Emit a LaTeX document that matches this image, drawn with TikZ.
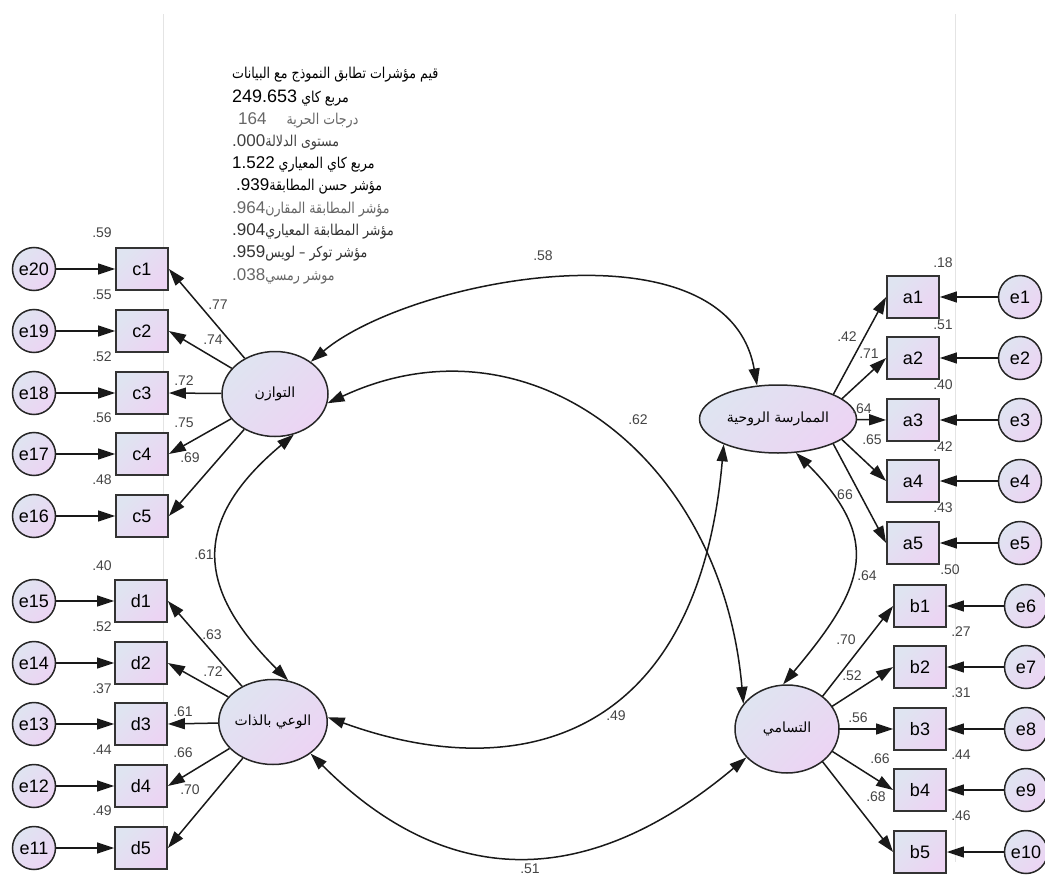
\documentclass[tikz,border=0pt]{standalone}
\usepackage{fontspec}
\setmainfont{Liberation Sans}
\newfontfamily\arabicfont[Script=Arabic]{DejaVu Sans}
\newfontfamily\arabicnarrow[Script=Arabic,FakeStretch=0.84]{DejaVu Sans}
\TeXXeTstate=1
\usetikzlibrary{arrows.meta,shapes.geometric,backgrounds}
\definecolor{shadeA}{HTML}{DFE4F1}
\definecolor{shadeB}{HTML}{ECD4F3}
\definecolor{edgegray}{HTML}{333333}
\definecolor{valgray}{HTML}{444444}
\definecolor{pageline}{HTML}{E4E4E4}
\newcommand{\artxt}[1]{\arabicfont\beginR #1\endR}
\newcommand{\fittext}[1]{\arabicnarrow\beginR #1\endR}
\newcommand{\lnum}[2][17]{\beginL{\rmfamily\fontsize{#1}{#1}\selectfont #2}\endL}
\begin{document}
\begin{tikzpicture}[x=1pt,y=1pt,
  headtip/.style={-{Triangle[length=17pt,width=11pt]}},
  twohead/.style={{Triangle[length=17pt,width=11pt]}-{Triangle[length=17pt,width=11pt]}},
  wire/.style={line width=1.5pt, draw=black!90},
  obsbox/.style={rectangle, draw=edgegray, line width=1.8pt, minimum width=52pt,
    minimum height=42pt, inner sep=0pt, left color=shadeA, right color=shadeB,
    shading angle=45, font=\fontsize{18}{18}\selectfont},
  errnode/.style={circle, draw=black!85, line width=1.5pt, minimum size=43pt,
    inner sep=0pt, left color=shadeA, right color=shadeB, shading angle=45,
    font=\fontsize{18}{18}\selectfont},
  latnode/.style={ellipse, draw=black!85, line width=1.5pt, inner sep=0pt,
    left color=shadeA, right color=shadeB, shading angle=45,
    font=\fontsize{14}{14}\selectfont},
  valtxt/.style={inner sep=0pt, text=valgray, font=\fontsize{14}{14}\selectfont},
  fittxt/.style={anchor=west, inner sep=0pt, font=\fontsize{15}{15}\selectfont}
]
\useasboundingbox (0,0) rectangle (1045,-875);

% latent factors
\node[latnode, minimum width=106pt, minimum height=85pt] (L1) at (275,-394) {\artxt{التوازن}};
\node[latnode, minimum width=107pt, minimum height=85pt] (L2) at (273,-722) {\artxt{الوعي بالذات}};
\node[latnode, minimum width=157pt, minimum height=68pt] (L3) at (778,-419) {\artxt{الممارسة الروحية}};
\node[latnode, minimum width=104pt, minimum height=88pt] (L4) at (787,-729) {\artxt{التسامي}};

% observed indicators
\foreach \i/\y in {1/269,2/331,3/393,4/454,5/516}
  \node[obsbox] (c\i) at (142,-\y) {c\i};
\foreach \i/\y in {1/601,2/663,3/724,4/786,5/848}
  \node[obsbox] (d\i) at (141,-\y) {d\i};
\foreach \i/\y in {1/297,2/358,3/420,4/481,5/543}
  \node[obsbox] (a\i) at (913,-\y) {a\i};
\foreach \i/\y in {1/606,2/667,3/729,4/790,5/852}
  \node[obsbox] (b\i) at (920,-\y) {b\i};

% error terms
\foreach \e/\y in {20/269,19/331,18/393,17/454,16/516,15/601,14/663,13/724,12/786,11/848}
  \node[errnode] (e\e) at (34,-\y) {e\e};
\foreach \e/\y in {1/297,2/358,3/420,4/481,5/543}
  \node[errnode] (e\e) at (1020,-\y) {e\e};
\foreach \e/\y in {6/606,7/667,8/729,9/790,10/852}
  \node[errnode] (e\e) at (1026,-\y) {e\e};

\begin{scope}[on background layer]
  % page margins
  \draw[pageline, line width=1pt] (163,-14) -- (163,-862);
  \draw[pageline, line width=1pt] (955,-14) -- (955,-862);

  % loadings
  \foreach \i in {1,...,5} {
    \draw[wire,headtip] (L1) -- (c\i.east);
    \draw[wire,headtip] (L2) -- (d\i.east);
    \draw[wire,headtip] ([xshift=42pt]L3.center) -- (a\i.west);
    \draw[wire,headtip] ([xshift=10pt]L4.center) -- (b\i.west);
  }

  % measurement errors
  \foreach \e/\b in {20/c1,19/c2,18/c3,17/c4,16/c5,15/d1,14/d2,13/d3,12/d4,11/d5}
    \draw[wire,headtip] (e\e) -- (\b.west);
  \foreach \e/\b in {1/a1,2/a2,3/a3,4/a4,5/a5,6/b1,7/b2,8/b3,9/b4,10/b5}
    \draw[wire,headtip] (e\e) -- (\b.east);

  % covariances between factors
  \draw[wire,twohead] (L1.42) to[out=40,in=100,out distance=130pt,in distance=170pt] (L3.122);
  \draw[wire,twohead] (L1.-10) to[out=25,in=95,out distance=220pt,in distance=250pt] (L4.150);
  \draw[wire,twohead] (L1.-65) to[out=220,in=135,out distance=135pt,in distance=130pt] (L2.70);
  \draw[wire,twohead] (L2.5) to[out=-20,in=-95,out distance=200pt,in distance=300pt] (L3.205);
  \draw[wire,twohead] (L2.-40) to[out=-45,in=220,out distance=200pt,in distance=200pt] (L4.215);
  \draw[wire,twohead] (L3.-62) to[out=-45,in=50,out distance=125pt,in distance=125pt] (L4.95);
\end{scope}

% squared multiple correlations
\foreach \v/\y [count=\k] in {.59/233,.55/295,.52/357,.56/418,.48/480,.40/566,.52/627,.37/689,.44/750,.49/811}
  \node[valtxt] (r\k) at (102,-\y) {\v};
\foreach \v/\y [count=\k] in {.18/263,.51/325,.40/385,.42/447,.43/508}
  \node[valtxt] (s\k) at (943,-\y) {\v};
\node[valtxt] (t1) at (950,-570) {.50};
\foreach \v/\y [count=\k from 2] in {.27/632,.31/693,.44/755,.46/816}
  \node[valtxt] (t\k) at (961,-\y) {\v};

% standardized loadings
\foreach \v/\x/\y [count=\k] in {.77/218/305,.74/213/340,.72/184/381,.75/184/423,.69/190/458,
    .63/212/635,.72/213/672,.61/183/712,.66/183/753,.70/190/790,
    .42/847/337,.71/869/354,.64/862/409,.65/872/440,66/845/495,
    .70/846/640,.52/852/676,.56/858/718,.66/880/759,.68/876/797}
  \node[valtxt] (w\k) at (\x,-\y) {\v};

% factor correlations
\foreach \v/\x/\y [count=\k] in {.58/543/256,.62/638/420,.61/204/555,.49/616/716,.51/530/869,.64/867/576}
  \node[valtxt] (q\k) at (\x,-\y) {\v};

% fit indices
\node[fittxt, text=black]   (f1)  at (232,-75)  {\fittext{قيم مؤشرات تطابق النموذج مع البيانات}};
\node[fittxt, text=black]   (f2)  at (232,-98)  {\fittext{مربع كاي \lnum[18]{249.653}}};
\node[fittxt, text=black!60] (f3) at (238,-120) {\fittext{درجات الحرية\hskip20pt\lnum{164}}};
\node[fittxt, text=black!75] (f4) at (232,-142) {\fittext{مستوى الدلالة\lnum{.000}}};
\node[fittxt, text=black]   (f5)  at (232,-164) {\fittext{مربع كاي المعياري \lnum{1.522}}};
\node[fittxt, text=black]   (f6)  at (236,-186) {\fittext{مؤشر حسن المطابقة\lnum{.939}}};
\node[fittxt, text=black!60] (f7) at (232,-209) {\fittext{مؤشر المطابقة المقارن\lnum{.964}}};
\node[fittxt, text=black!80] (f8) at (232,-231) {\fittext{مؤشر المطابقة المعياري\lnum{.904}}};
\node[fittxt, text=black!80] (f9) at (232,-253) {\fittext{مؤشر توكر – لويس\lnum{.959}}};
\node[fittxt, text=black!60] (f10) at (232,-276) {\fittext{موشر رمسي\lnum{.038}}};
\end{tikzpicture}
\end{document}
